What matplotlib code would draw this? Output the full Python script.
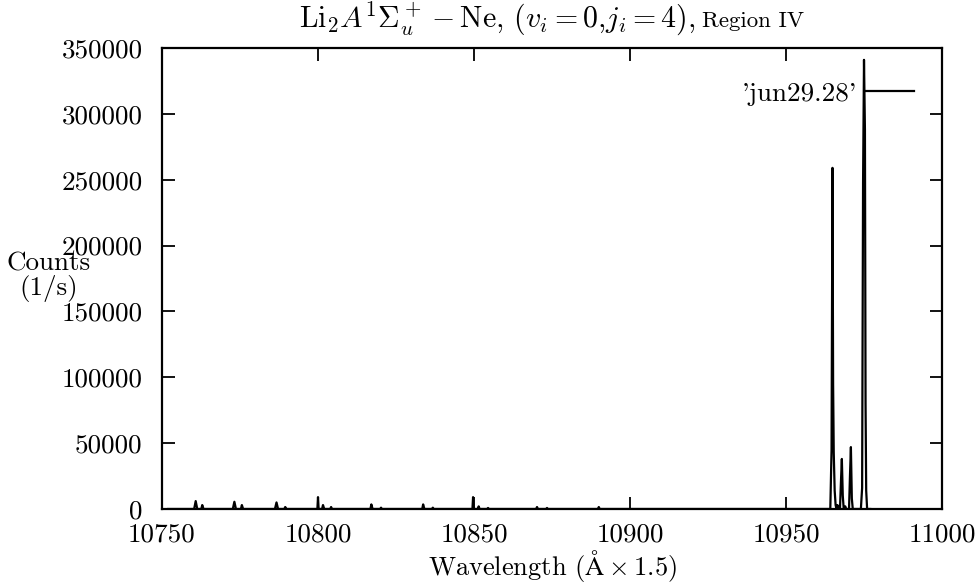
import matplotlib
matplotlib.use("Agg")
import matplotlib.pyplot as plt

plt.rcParams['font.family'] = 'serif'
plt.rcParams['font.serif'] = ['cmr10']
plt.rcParams['mathtext.fontset'] = 'cm'
plt.rcParams['axes.formatter.use_mathtext'] = True
plt.rcParams['axes.unicode_minus'] = False

# Spectrum data: wavelength (A x 1.5) and counts (1/s)
wavelength = [10752.0, 10760.3, 10760.8, 10761.3, 10762.6, 10762.9, 10763.3,
              10772.7, 10773.2, 10773.7, 10775.3, 10775.6, 10776.0,
              10786.2, 10786.7, 10787.2, 10789.2, 10789.5, 10789.9,
              10799.8, 10800.0, 10800.2, 10801.3, 10801.6, 10802.0, 10803.9, 10804.2, 10804.5,
              10816.8, 10817.1, 10817.5, 10819.9, 10820.2, 10820.5,
              10833.4, 10833.7, 10834.1, 10836.5, 10836.8, 10837.1,
              10849.5, 10849.7, 10849.9, 10851.2, 10851.5, 10851.8, 10854.2, 10854.5, 10854.8,
              10869.9, 10870.2, 10870.5, 10873.1, 10873.4, 10873.7,
              10889.7, 10890.0, 10890.3,
              10964.2, 10964.6, 10964.9, 10965.1, 10965.3, 10965.6, 10965.9, 10966.2,
              10966.5, 10966.8, 10967.3, 10967.6, 10967.9, 10968.2, 10968.5,
              10969.0, 10969.3, 10970.2, 10970.5, 10970.8, 10971.1, 10971.4,
              10974.0, 10974.4, 10974.7, 10975.0, 10975.3, 10975.5, 10975.7, 10976.0,
              10977.0]
counts = [0, 0, 6000, 0, 0, 3000, 0,
          0, 5500, 0, 0, 3000, 0,
          0, 5000, 0, 0, 1500, 0,
          0, 9000, 0, 0, 3000, 0, 0, 1500, 0,
          0, 3500, 0, 0, 1000, 0,
          0, 3500, 0, 0, 1000, 0,
          0, 9000, 0, 0, 2000, 0, 0, 800, 0,
          0, 1500, 0, 0, 800, 0,
          0, 1500, 0,
          0, 45000, 259000, 95000, 43000, 14000, 3000, 0,
          3000, 0, 0, 20000, 38000, 10000, 0,
          2000, 0, 0, 25000, 47000, 8000, 0,
          0, 16000, 248000, 341000, 288000, 80000, 14000, 0,
          0]

xticks = [10750, 10800, 10850, 10900, 10950, 11000]
yticks = [0, 50000, 100000, 150000, 200000, 250000, 300000, 350000]

fig = plt.figure(figsize=(9.76, 5.83), dpi=100)
ax = fig.add_axes([162/976, 1-509/583, (942-162)/976, (509-48)/583])

ax.plot(wavelength, counts, color='black', linewidth=1.6, label="'jun29.28'")

ax.set_xlim(10750, 11000)
ax.set_ylim(0, 350000)
ax.set_xticks(xticks)
ax.set_yticks(yticks)
ax.set_xticklabels([str(v) for v in xticks])
ax.set_yticklabels([str(v) for v in yticks])
ax.tick_params(direction='in', length=9, width=1.3, top=True, right=True,
               labelsize=19.5)
ax.tick_params(axis='y', pad=14)
ax.tick_params(axis='x', pad=10)
for s in ax.spines.values():
    s.set_linewidth(1.6)

fig.text(552/976, 1-575/583, r"Wavelength ($\mathrm{\AA}\times$1.5)", fontsize=19,
         ha='center', va='baseline')

fig.text(49/976, 1-277/583, "Counts\n(1/s)", fontsize=19.5, ha='center', va='center',
         linespacing=1.0)

fig.text(696/976, 1-27/583, r"Li$_2A^1\Sigma_u^+-$Ne, $(v_i=0$,$j_i=4)$,",
         fontsize=21.5, ha='right', va='baseline')
fig.text(702/976, 1-27/583, "Region IV", fontsize=16.5, ha='left', va='baseline')

leg = ax.legend(loc='upper right', bbox_to_anchor=(914/976, 1-82/583),
                bbox_transform=fig.transFigure, frameon=False, markerfirst=False,
                fontsize=19.5, handlelength=1.8, handletextpad=0.3, borderpad=0,
                borderaxespad=0)

fig.savefig("out.png", dpi=100)
